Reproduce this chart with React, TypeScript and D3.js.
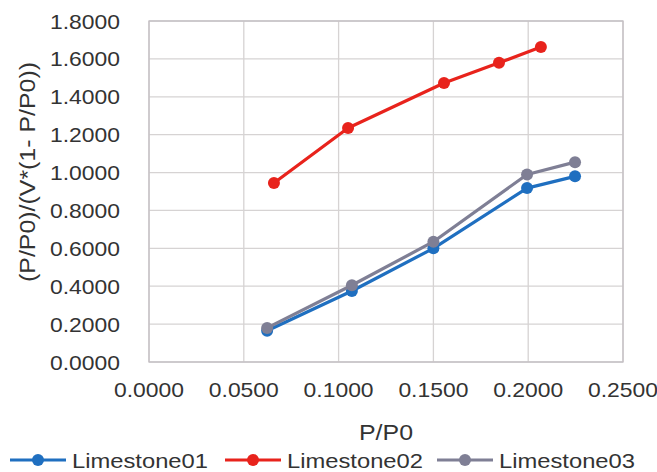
import * as d3 from "d3";

// values
const pp0Lime01 = [0.0623, 0.107, 0.15, 0.1994, 0.2247];
const yLime01 = [0.165, 0.375, 0.6, 0.918, 0.98];
const pp0Lime02 = [0.0659, 0.105, 0.1556, 0.1846, 0.2067];
const yLime02 = [0.945, 1.235, 1.473, 1.579, 1.663];
const pp0Lime03 = [0.0623, 0.107, 0.15, 0.1994, 0.2247];
const yLime03 = [0.18, 0.405, 0.635, 0.99, 1.055];
const seriesNames = ["Limestone01", "Limestone02", "Limestone03"];
const xTicks = [0, 0.05, 0.1, 0.15, 0.2, 0.25];
const yTicks = [0, 0.2, 0.4, 0.6, 0.8, 1.0, 1.2, 1.4, 1.6, 1.8];

const W = 657;
const H = 472;
const plot = { left: 149, right: 623, top: 21, bottom: 362 };
const colors = ["#1f6fc0", "#e8231c", "#7f7f95"];
const textColor = "#333333";
const font = "'Liberation Sans', Arial, sans-serif";

const App = () => {
  const x = d3.scaleLinear().domain([0, 0.25]).range([plot.left, plot.right]);
  const y = d3.scaleLinear().domain([0, 1.8]).range([plot.bottom, plot.top]);
  const fmt = d3.format(".4f");

  const series = [
    { name: seriesNames[0], xs: pp0Lime01, ys: yLime01, color: colors[0] },
    { name: seriesNames[1], xs: pp0Lime02, ys: yLime02, color: colors[1] },
    { name: seriesNames[2], xs: pp0Lime03, ys: yLime03, color: colors[2] },
  ];
  const line = d3
    .line<[number, number]>()
    .x((d) => x(d[0]))
    .y((d) => y(d[1]));

  const legendX = [10, 225, 437];

  return (
    <div style={{ position: "absolute", left: 0, top: 0 }}>
      <svg width={W} height={H} style={{ display: "block", background: "#fff" }}>
        {/* grid */}
        {yTicks.map((t) => (
          <line key={"gy" + t} x1={plot.left} x2={plot.right} y1={y(t)} y2={y(t)}
            stroke="#d6d3d3" strokeWidth={1.3} />
        ))}
        {xTicks.map((t) => (
          <line key={"gx" + t} x1={x(t)} x2={x(t)} y1={plot.top} y2={plot.bottom}
            stroke="#d6d3d3" strokeWidth={1.3} />
        ))}
        <rect x={plot.left} y={plot.top} width={plot.right - plot.left} height={plot.bottom - plot.top}
          fill="none" stroke="#c4bfc4" strokeWidth={1.3} />

        {/* tick labels */}
        {yTicks.map((t) => (
          <text key={"ty" + t} x={120} y={y(t)} dy="0.36em" textAnchor="end"
            fontFamily={font} fontSize={21} fill={textColor}
            textLength={70} lengthAdjust="spacingAndGlyphs">{fmt(t)}</text>
        ))}
        {xTicks.map((t) => (
          <text key={"tx" + t} x={x(t)} y={389} dy="0.36em" textAnchor="middle"
            fontFamily={font} fontSize={21} fill={textColor}
            textLength={70} lengthAdjust="spacingAndGlyphs">{fmt(t)}</text>
        ))}

        {/* axis titles */}
        <text x={386} y={432} dy="0.36em" textAnchor="middle" fontFamily={font} fontSize={22}
          fill={textColor} textLength={54} lengthAdjust="spacingAndGlyphs">P/P0</text>
        <text transform={`translate(27,172) rotate(-90)`} textAnchor="middle" dy="0.36em"
          fontFamily={font} fontSize={22} fill={textColor}
          textLength={220} lengthAdjust="spacingAndGlyphs">(P/P0)/(V*(1- P/P0))</text>

        {/* series */}
        {series.map((s) => {
          const pts = s.xs.map((v, i) => [v, s.ys[i]] as [number, number]);
          return (
            <g key={s.name}>
              <path d={line(pts) || ""} fill="none" stroke={s.color} strokeWidth={3.2}
                strokeLinejoin="round" />
              {pts.map((p, i) => (
                <circle key={i} cx={x(p[0])} cy={y(p[1])} r={6} fill={s.color} />
              ))}
            </g>
          );
        })}

        {/* legend */}
        {series.map((s, i) => (
          <g key={"lg" + s.name} transform={`translate(${legendX[i]},460)`}>
            <line x1={0} x2={56} y1={0} y2={0} stroke={s.color} strokeWidth={3.2} />
            <circle cx={28} cy={0} r={6} fill={s.color} />
            <text x={62} y={0} dy="0.36em" fontFamily={font} fontSize={21} fill={textColor}
              textLength={136} lengthAdjust="spacingAndGlyphs">{s.name}</text>
          </g>
        ))}
      </svg>
    </div>
  );
};

export default App;
